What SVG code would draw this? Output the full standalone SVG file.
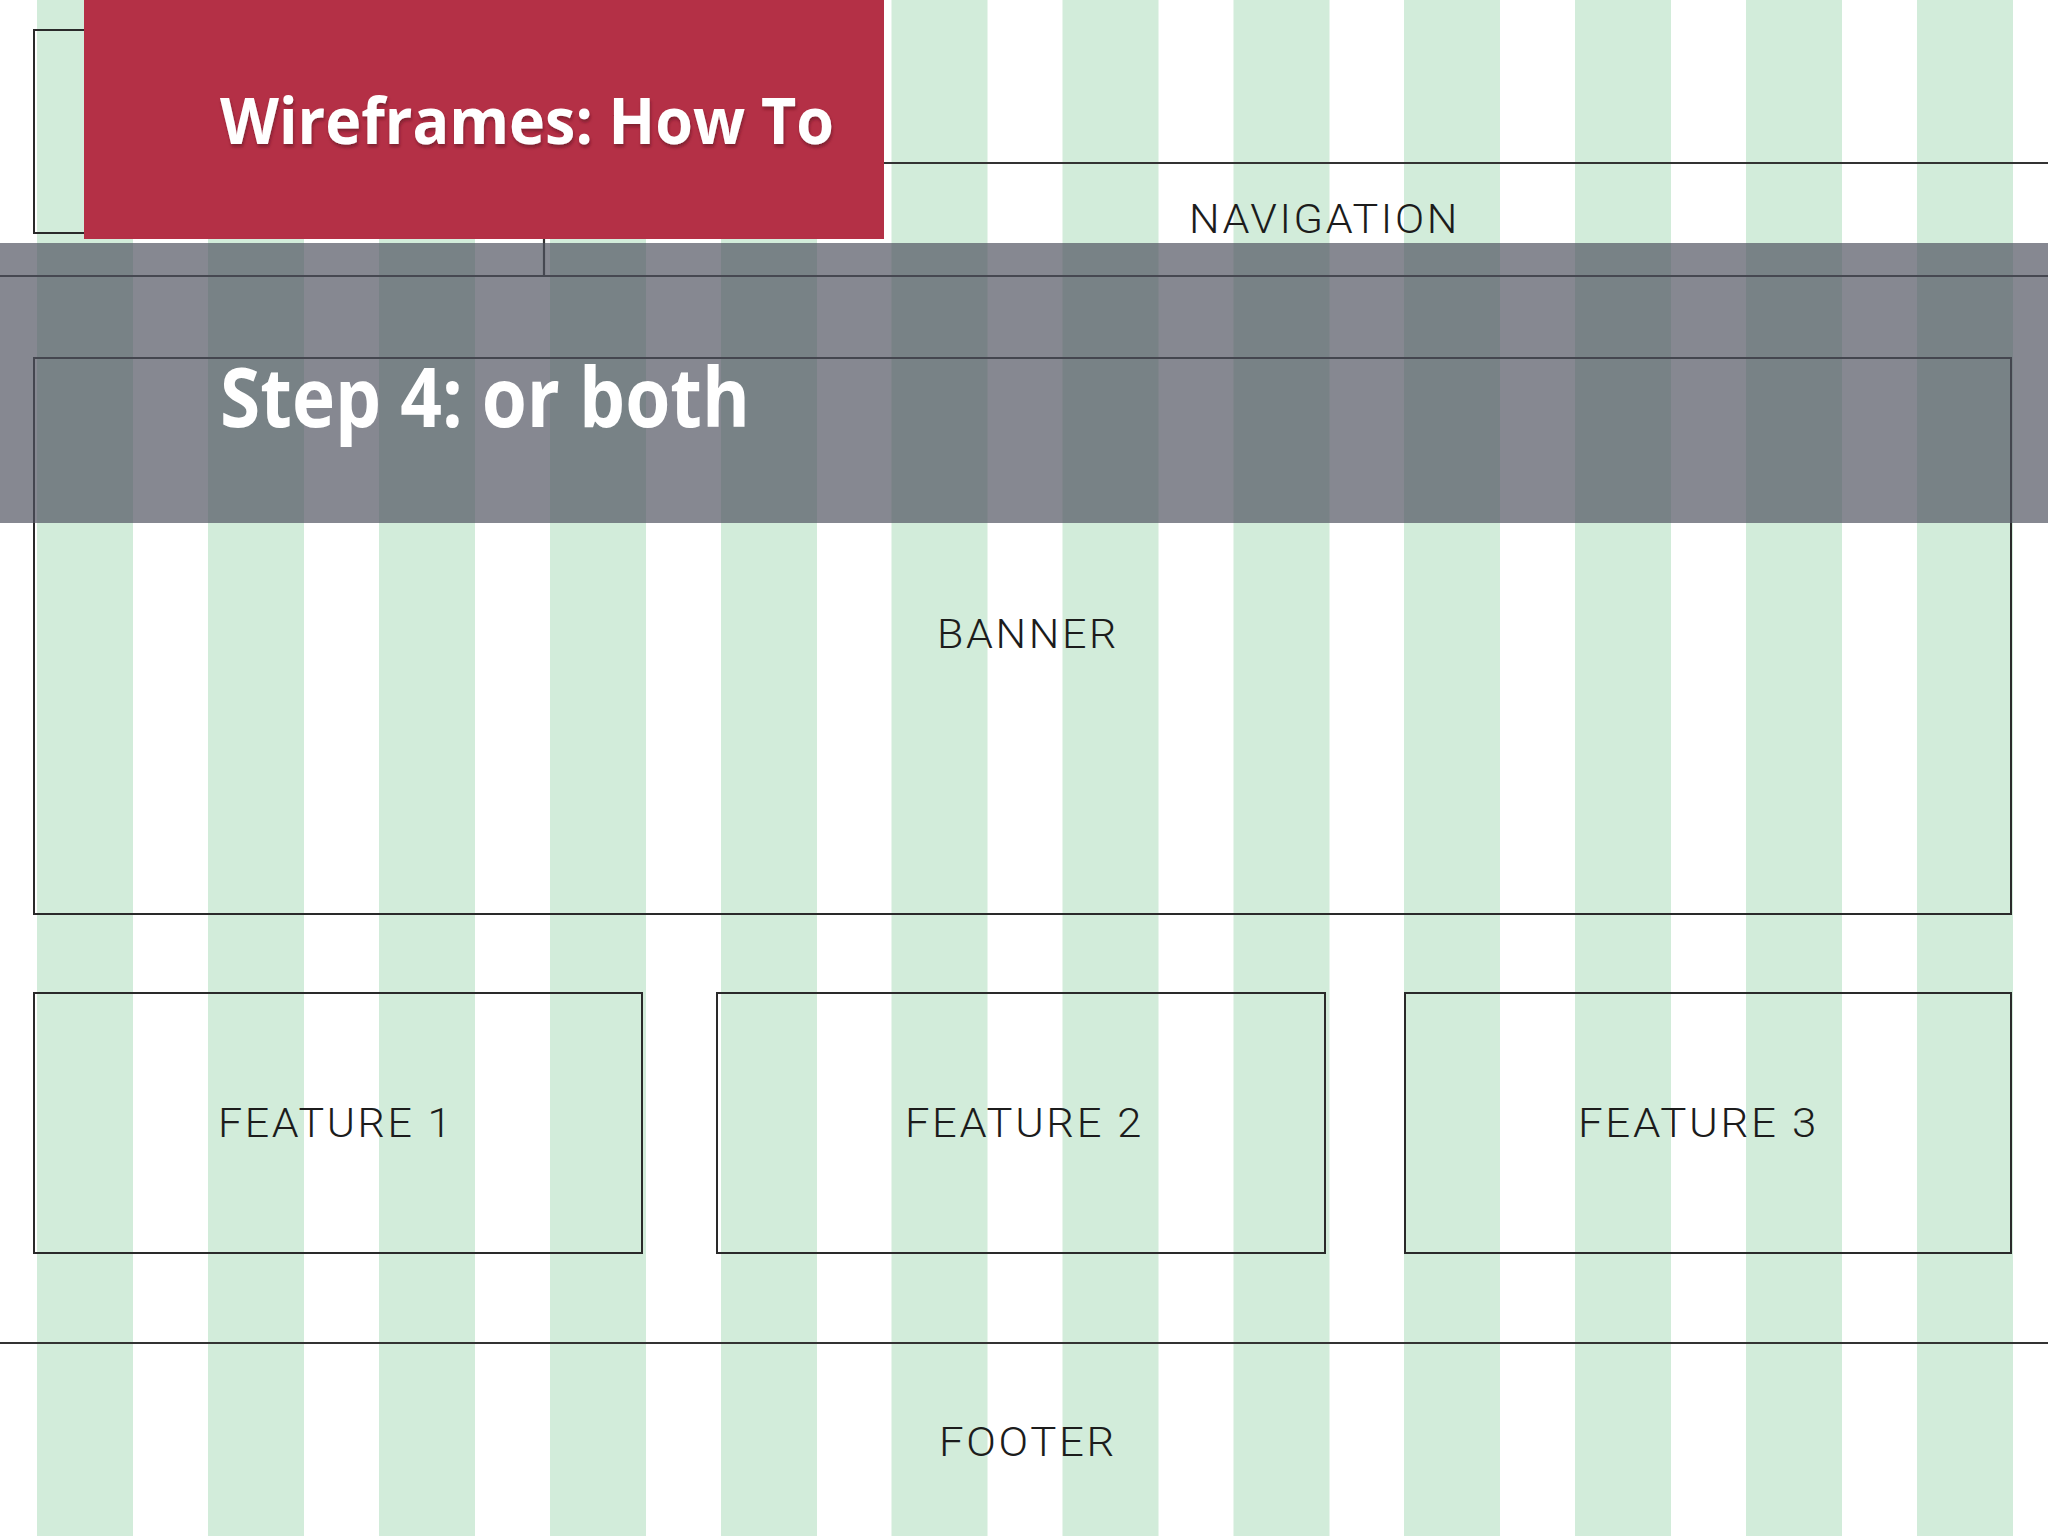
<svg xmlns="http://www.w3.org/2000/svg" width="2048" height="1536" viewBox="0 0 2048 1536">
  <defs>
    <filter id="shadow" x="-5%" y="-20%" width="110%" height="150%">
      <feDropShadow dx="1" dy="3" stdDeviation="1.5" flood-color="#5a1020" flood-opacity="0.55"/>
    </filter>
    <style>
      .col { fill: #d2ecda; }
      .box { fill: none; stroke: #2a2a2a; stroke-width: 2; }
      .line { stroke: #333333; stroke-width: 2.2; fill: none; }
      .lbl { font-family: Roboto, "Liberation Sans", Arial, sans-serif; font-weight: 300; font-size: 41px; letter-spacing: 2.5px; fill: #1c1c1c; }
      .title { font-family: "Open Sans", "Noto Sans", "Liberation Sans", sans-serif; font-weight: 700; fill: #ffffff; }
    </style>
  </defs>

  <rect x="0" y="0" width="2048" height="1536" fill="#ffffff"/>

  <g id="grid-columns">
    <rect class="col" x="37" y="0" width="96" height="1536"/>
    <rect class="col" x="208" y="0" width="96" height="1536"/>
    <rect class="col" x="379" y="0" width="96" height="1536"/>
    <rect class="col" x="550" y="0" width="96" height="1536"/>
    <rect class="col" x="721" y="0" width="96" height="1536"/>
    <rect class="col" x="891.5" y="0" width="96" height="1536"/>
    <rect class="col" x="1062.5" y="0" width="96" height="1536"/>
    <rect class="col" x="1233.5" y="0" width="96" height="1536"/>
    <rect class="col" x="1404" y="0" width="96" height="1536"/>
    <rect class="col" x="1575" y="0" width="96" height="1536"/>
    <rect class="col" x="1746" y="0" width="96" height="1536"/>
    <rect class="col" x="1917" y="0" width="96" height="1536"/>
  </g>

  <g id="connectors">
    <line class="line" x1="600" y1="163" x2="2048" y2="163"/>
    <line class="line" x1="544" y1="163" x2="544" y2="276"/>
    <line class="line" x1="0" y1="276" x2="2048" y2="276"/>
    <line class="line" x1="0" y1="1343" x2="2048" y2="1343"/>
  </g>

  <g id="logo">
    <rect class="box" x="34" y="30" width="300" height="203"/>
  </g>

  <g id="navigation">
    <text class="lbl" x="1189" y="233" textLength="271" lengthAdjust="spacingAndGlyphs">NAVIGATION</text>
  </g>

  <g id="banner">
    <rect class="box" x="34" y="358" width="1977" height="556"/>
    <text class="lbl" x="937" y="648" textLength="182" lengthAdjust="spacingAndGlyphs">BANNER</text>
  </g>

  <g id="feature1">
    <rect class="box" x="34" y="993" width="608" height="260"/>
    <text class="lbl" x="218" y="1137" textLength="236" lengthAdjust="spacingAndGlyphs">FEATURE 1</text>
  </g>

  <g id="feature2">
    <rect class="box" x="717" y="993" width="608" height="260"/>
    <text class="lbl" x="905" y="1137" textLength="239" lengthAdjust="spacingAndGlyphs">FEATURE 2</text>
  </g>

  <g id="feature3">
    <rect class="box" x="1405" y="993" width="606" height="260"/>
    <text class="lbl" x="1578" y="1137" textLength="241" lengthAdjust="spacingAndGlyphs">FEATURE 3</text>
  </g>

  <g id="footer">
    <text class="lbl" x="939" y="1456" textLength="178" lengthAdjust="spacingAndGlyphs">FOOTER</text>
  </g>

  <g id="title">
    <rect x="84" y="0" width="800" height="239" fill="#b43046"/>
    <text class="title" x="220" y="144" font-size="64" textLength="614" lengthAdjust="spacingAndGlyphs" filter="url(#shadow)">Wireframes: How To</text>
  </g>

  <g id="step-banner">
    <rect x="0" y="243" width="2048" height="280" fill="#4f535f" fill-opacity="0.69"/>
    <text class="title" x="220" y="427" font-size="82" textLength="530" lengthAdjust="spacingAndGlyphs">Step 4: or both</text>
  </g>
</svg>
